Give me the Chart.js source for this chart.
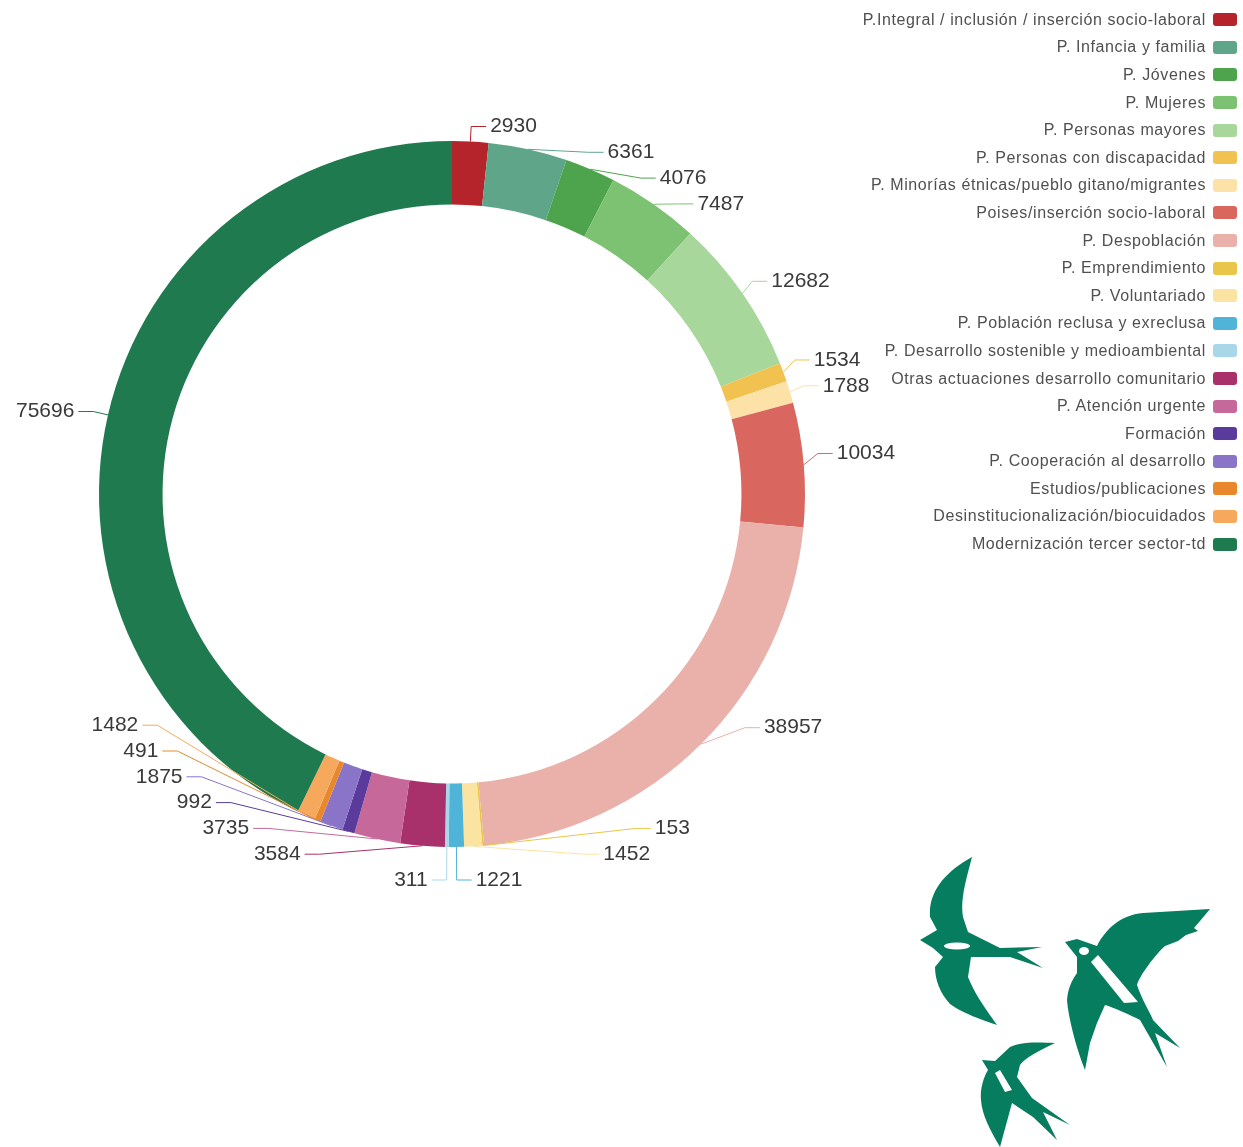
<!DOCTYPE html>
<html lang="es">
<head>
<meta charset="utf-8">
<title>Programas por importe</title>
<script src="https://cdn.jsdelivr.net/npm/chart.js@4.4.1/dist/chart.umd.min.js"></script>
<style>
  html, body { margin: 0; padding: 0; background: #fff; }
  #wrap { position: relative; width: 1243px; height: 1147px; overflow: hidden; font-family: "Liberation Sans", Arial, sans-serif; }
  #chart { position: absolute; left: 0; top: 0; }
  #legend { position: absolute; right: 6px; top: 6px; margin: 0; padding: 0; list-style: none; }
  #legend li { display: flex; justify-content: flex-end; align-items: center; height: 27.6px; font-size: 16px; letter-spacing: 0.6px; color: #505050; white-space: nowrap; }
  #legend .box { width: 24px; height: 13px; border-radius: 3px; margin-left: 7px; }
  #logo { position: absolute; left: 0; top: 0; }
</style>
</head>
<body>
<div id="wrap">
  <canvas id="chart" width="1243" height="1147"></canvas>
  <ul id="legend"></ul>
  <svg id="logo" width="1243" height="1147" viewBox="0 0 1243 1147">
    <g fill="#067d5f">
      <path d="M920,940 L937,930 L930,917 C928,890 948,870 972,857 C966,880 960,900 963,917 L968,932 L1000,948 L1042,947 L1017,952 L1043,968 L1010,957 L971,957 L968,977 C975,995 988,1012 997,1025 C975,1018 958,1010 950,1004 C940,993 935,980 935,967 L943,957 L933,948 Z"/>
      <path d="M1065,942 L1077,939 L1097,946 C1105,930 1120,915 1143,913 L1210,909 L1200,921 L1194,928 L1198,931 L1186,935 L1178,941 L1165,946 C1155,955 1140,975 1137,985 C1142,1000 1150,1012 1153,1020 L1180,1048 L1155,1033 L1167,1067 L1140,1020 C1130,1015 1115,1008 1105,1005 L1097,1023 L1090,1043 L1085,1070 C1075,1045 1068,1015 1067,1000 C1068,988 1072,980 1077,973 L1077,957 Z"/>
      <path d="M982,1060 L995,1061 L1010,1047 C1020,1042 1035,1042 1055,1043 C1040,1050 1025,1058 1020,1065 L1017,1077 L1032,1098 L1070,1125 L1043,1112 L1057,1140 L1033,1117 L1012,1103 L1000,1147 C990,1130 982,1115 981,1100 C980,1090 983,1078 988,1070 Z"/>
    </g>
    <g fill="#fff">
      <ellipse cx="957" cy="946" rx="13" ry="3.5"/>
      <path d="M1091,962 L1098,955 L1138,1002 L1124,1003 Z"/>
      <ellipse cx="1084" cy="951" rx="5" ry="4"/>
      <path d="M995,1073 L1000,1070 L1012,1090 L1005,1092 Z"/>
    </g>
  </svg>
</div>
<script>
const categories = [
  'P.Integral / inclusión / inserción socio-laboral',
  'P. Infancia y familia',
  'P. Jóvenes',
  'P. Mujeres',
  'P. Personas mayores',
  'P. Personas con discapacidad',
  'P. Minorías étnicas/pueblo gitano/migrantes',
  'Poises/inserción socio-laboral',
  'P. Despoblación',
  'P. Emprendimiento',
  'P. Voluntariado',
  'P. Población reclusa y exreclusa',
  'P. Desarrollo sostenible y medioambiental',
  'Otras actuaciones desarrollo comunitario',
  'P. Atención urgente',
  'Formación',
  'P. Cooperación al desarrollo',
  'Estudios/publicaciones',
  'Desinstitucionalización/biocuidados',
  'Modernización tercer sector-td'
];

const values = [2930, 6361, 4076, 7487, 12682, 1534, 1788, 10034, 38957, 153,
                1452, 1221, 311, 3584, 3735, 992, 1875, 491, 1482, 75696];

const colors = ['#b5232b', '#5fa58a', '#4ea44c', '#7dc272', '#a8d79b', '#f1c24f',
                '#fde2a8', '#d9665f', '#eab1ab', '#e9c649', '#fbe4a2', '#4fb4d8',
                '#a9d7ea', '#a8316b', '#c7689b', '#5a3b9b', '#8a74c8', '#e8872c',
                '#f6a95c', '#1f7a4f'];

// legend (html, right side)
const legendEl = document.getElementById('legend');
legendEl.innerHTML = categories.map((c, i) => `
  <li><span>${c}</span><span class="box" style="background:${colors[i]}"></span></li>
`).join('');

// pushes labels apart, then squeezes the free gaps if the last one runs past maxY
function spreadLabels(side, gap, maxY) {
  for (let k = 1; k < side.length; k++) side[k].y = Math.max(side[k].y, side[k - 1].y + gap);
  const n = side.length;
  if (!n) return;
  let over = side[n - 1].y - maxY;
  if (over > 0) {
    const gaps = [];
    let total = 0;
    for (let k = 1; k < n; k++) {
      const g = Math.max(side[k].y - side[k - 1].y - gap, 0);
      gaps.push(g);
      total += g;
    }
    if (total > 0) {
      const pct = Math.min(over / total, 0.8);
      let moved = 0;
      for (let k = 1; k < n; k++) {
        moved += gaps[k - 1] * pct;
        side[k].y -= moved;
      }
    }
    over = side[n - 1].y - maxY;
    if (over > 0.5) {
      side[n - 1].y = maxY;
      for (let k = n - 2; k >= 0; k--) side[k].y = Math.min(side[k].y, side[k + 1].y - gap);
    }
  }
}

// value labels outside the ring, with leader lines
const outsideLabels = {
  id: 'outsideLabels',
  afterDatasetsDraw(chart) {
    const ctx = chart.ctx;
    const meta = chart.getDatasetMeta(0);
    const cx = meta.data[0].x, cy = meta.data[0].y, r = meta.data[0].outerRadius;
    const len1 = 15, len2 = 15, gap = 25.8;
    const rA = r + len1;
    const maxY = cy + r + 33;

    const items = meta.data.map((arc, i) => {
      const mid = (arc.startAngle + arc.endAngle) / 2;
      return {
        i,
        ax: cx + Math.cos(mid) * r,
        ay: cy + Math.sin(mid) * r,
        dx0: Math.cos(mid) * rA,
        y: cy + Math.sin(mid) * rA,
        dir: Math.cos(mid) >= 0 ? 1 : -1
      };
    });

    [1, -1].forEach(dir => {
      const side = items.filter(d => d.dir === dir).sort((a, b) => a.y - b.y);
      spreadLabels(side, gap, maxY);
      [side.filter(d => d.y < cy), side.filter(d => d.y >= cy)].forEach(semi => {
        if (!semi.length) return;
        let far = semi[0];
        semi.forEach(d => { if (Math.abs(d.y - cy) > Math.abs(far.y - cy)) far = d; });
        const fdy = Math.abs(far.y - cy);
        const rB = Math.abs(far.dx0) < rA ? Math.sqrt(fdy * fdy / (1 - far.dx0 * far.dx0 / (rA * rA))) : rA;
        semi.forEach(d => {
          const dy = Math.abs(d.y - cy);
          const dx = Math.sqrt(Math.max(0, 1 - dy * dy / (rB * rB))) * rA;
          d.bx = cx + dir * dx;
          d.ex = d.bx + dir * len2;
        });
      });
    });

    ctx.save();
    ctx.lineWidth = 1;
    ctx.font = '21px "Liberation Sans", Arial, sans-serif';
    ctx.textBaseline = 'middle';
    ctx.fillStyle = '#3a3a3a';
    items.forEach(d => {
      ctx.strokeStyle = colors[d.i];
      ctx.beginPath();
      ctx.moveTo(d.ax, d.ay);
      ctx.lineTo(d.bx, d.y);
      ctx.lineTo(d.ex, d.y);
      ctx.stroke();
      ctx.textAlign = d.dir > 0 ? 'left' : 'right';
      ctx.fillText(String(values[d.i]), d.ex + d.dir * 4, d.y);
    });
    ctx.restore();
  }
};

new Chart(document.getElementById('chart'), {
  type: 'doughnut',
  data: {
    labels: categories,
    datasets: [{ data: values, backgroundColor: colors, borderWidth: 0 }]
  },
  options: {
    responsive: false,
    animation: false,
    devicePixelRatio: 1,
    cutout: '82%',
    layout: { padding: { left: 99, top: 141, right: 438, bottom: 300 } },
    plugins: {
      legend: { display: false },
      tooltip: { enabled: false }
    }
  },
  plugins: [outsideLabels]
});
</script>
</body>
</html>
